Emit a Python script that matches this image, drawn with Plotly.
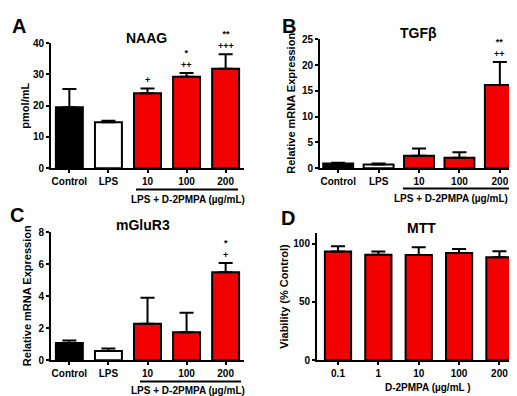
import plotly.graph_objects as go

# ---------------- data ----------------
group_cats = ["Control", "LPS", "10", "100", "200"]
naag_mean = [19.5, 14.7, 24.0, 29.2, 31.8]
naag_err = [5.8, 0.5, 1.5, 1.2, 4.6]
naag_sig = ["", "", "+", "*<br>++", "**<br>+++"]

tgf_mean = [0.9, 0.7, 2.4, 2.0, 16.1]
tgf_err = [0.15, 0.2, 1.4, 1.1, 4.5]
tgf_sig = ["", "", "", "", "**<br>++"]

mglu_mean = [1.08, 0.58, 2.28, 1.75, 5.5]
mglu_err = [0.15, 0.15, 1.62, 1.22, 0.58]
mglu_sig = ["", "", "", "", "*<br>+"]

mtt_cats = ["0.1", "1", "10", "100", "200"]
mtt_mean = [93.2, 90.5, 90.2, 92.0, 88.3]
mtt_err = [4.6, 2.8, 6.8, 3.4, 5.1]

group_colors = ["#000000", "#ffffff", "#f20000", "#f20000", "#f20000"]
mtt_colors = ["#f20000"] * 5

W, H = 517, 396
FONT = "Liberation Sans, Arial, sans-serif"


def px(x):
    return x / W


def py(y):
    return 1 - y / H


fig = go.Figure()

panels = [
    dict(n="", cats=group_cats, mean=naag_mean, err=naag_err, sig=naag_sig, colors=group_colors,
         xd=(43, 236), yd=(30, 159), xr=[-0.47, 4.47], yr=[0, 40], tv=[0, 10, 20, 30, 40], bw=0.69,
         yt="pmol/mL", ytx=17),
    dict(n="2", cats=group_cats, mean=tgf_mean, err=tgf_err, sig=tgf_sig, colors=group_colors,
         xd=(312, 506), yd=(26, 159), xr=[-0.45, 4.35], yr=[0, 25], tv=[0, 5, 10, 15, 20, 25], bw=0.74,
         yt="Relative mRNA Expression", ytx=283),
    dict(n="3", cats=group_cats, mean=mglu_mean, err=mglu_err, sig=mglu_sig, colors=group_colors,
         xd=(43, 236), yd=(225, 357), xr=[-0.47, 4.47], yr=[0, 8], tv=[0, 2, 4, 6, 8], bw=0.69,
         yt="Relative mRNA Expression", ytx=19),
    dict(n="4", cats=mtt_cats, mean=mtt_mean, err=mtt_err, sig=[""] * 5, colors=mtt_colors,
         xd=(309, 508), yd=(226, 357), xr=[-0.52, 4.41], yr=[0, 109], tv=[0, 50, 100], bw=0.65,
         yt="Viability (% Control)", ytx=276),
]

annotations = []
shapes = []

for p in panels:
    xa = "x" + p["n"]
    ya = "y" + p["n"]
    fig.add_trace(go.Bar(
        x=p["cats"], y=p["mean"], xaxis=xa, yaxis=ya, width=p["bw"],
        marker=dict(color=p["colors"], line=dict(color="black", width=2)),
        error_y=dict(type="data", symmetric=False, array=p["err"], arrayminus=[0] * 5,
                     color="black", thickness=2, width=7),
        showlegend=False, hoverinfo="skip",
    ))
    common_axis = dict(showline=True, linecolor="black", linewidth=2, showgrid=False,
                       zeroline=False, ticks="outside", ticklen=3, tickwidth=2, tickcolor="black",
                       tickfont=dict(family=FONT, size=10, color="black", weight="bold"))
    fig.layout["xaxis" + p["n"]] = dict(
        domain=[px(p["xd"][0]), px(p["xd"][1])], anchor=ya, range=p["xr"],
        type="category", categoryorder="array", categoryarray=p["cats"], **common_axis)
    fig.layout["yaxis" + p["n"]] = dict(
        domain=[py(p["yd"][1]), py(p["yd"][0])], anchor=xa, range=p["yr"], tickvals=p["tv"],
        **common_axis)
    # y title
    annotations.append(dict(text=p["yt"], xref="paper", yref="paper", x=px(p["ytx"]),
                            y=py((p["yd"][0] + p["yd"][1]) / 2), textangle=-90, showarrow=False,
                            xanchor="center", yanchor="middle",
                            font=dict(family=FONT, size=11, color="black", weight="bold")))
    # significance marks (x given as category index)
    for i, (m, e, s) in enumerate(zip(p["mean"], p["err"], p["sig"])):
        if s:
            annotations.append(dict(text=s, x=i, y=m + e, xref=xa, yref=ya, showarrow=False,
                                    xanchor="center", yanchor="bottom", yshift=1,
                                    font=dict(family=FONT, size=9, color="black", weight="bold")))

# titles and panel letters
for txt, x, y, size in [("NAAG", 138, 25, 14), ("TGFβ", 410, 20, 14), ("mGluR3", 135, 218, 14),
                        ("MTT", 413, 221, 14), ("A", 11, 12, 20), ("B", 281, 12, 20),
                        ("C", 9, 207, 20), ("D", 280, 210, 20)]:
    annotations.append(dict(text=txt, xref="paper", yref="paper", x=px(x), y=py(y), showarrow=False,
                            xanchor="center", yanchor="middle",
                            font=dict(family=FONT, size=size, color="black", weight="bold")))

# group labels
for x0, x1, yl, xc, yt in [(128, 230, 181, 180, 191), (395, 506, 180, 443, 190),
                           (132, 233, 379, 180, 388)]:
    shapes.append(dict(type="line", xref="paper", yref="paper", x0=px(x0), x1=px(x1),
                       y0=py(yl), y1=py(yl), line=dict(color="black", width=2)))
    annotations.append(dict(text="LPS + D-2PMPA (µg/mL)", xref="paper", yref="paper", x=px(xc),
                            y=py(yt), showarrow=False, xanchor="center", yanchor="middle",
                            font=dict(family=FONT, size=10, color="black", weight="bold")))

annotations.append(dict(text="D-2PMPA (µg/mL )", xref="paper", yref="paper", x=px(420), y=py(385),
                        showarrow=False, xanchor="center", yanchor="middle",
                        font=dict(family=FONT, size=10, color="black", weight="bold")))

fig.update_layout(width=W, height=H, margin=dict(l=0, r=0, t=0, b=0),
                  paper_bgcolor="white", plot_bgcolor="white",
                  annotations=annotations, shapes=shapes,
                  font=dict(family=FONT, color="black"))

fig.write_html("out.html")
